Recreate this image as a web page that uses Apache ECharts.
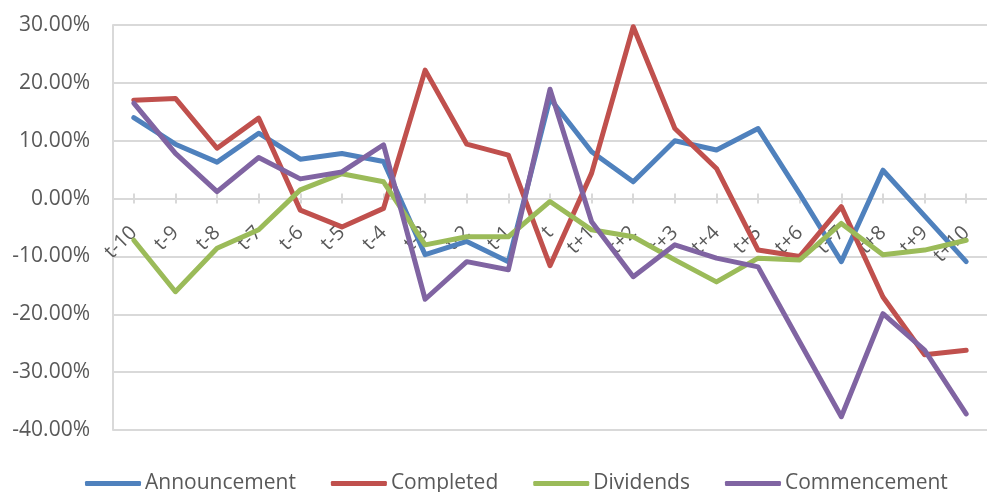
<!DOCTYPE html>
<html><head><meta charset="utf-8">
<script src="https://cdn.jsdelivr.net/npm/echarts@6/dist/echarts.min.js"></script>
<style>html,body{margin:0;padding:0;background:#fff}#c{width:987px;height:492px}</style>
</head><body><div id="c"></div>
<script>
const categories = ['t-10','t-9','t-8','t-7','t-6','t-5','t-4','t-3','t-2','t-1','t','t+1','t+2','t+3','t+4','t+5','t+6','t+7','t+8','t+9','t+10'];
const seriesNames = ['Announcement','Completed','Dividends','Commencement'];
const announcement = [14.0, 9.4, 6.3, 11.3, 6.8, 7.8, 6.4, -9.7, -7.4, -10.9, 17.3, 8.1, 2.9, 10.0, 8.4, 12.1, 0.8, -10.9, 4.9, -3.0, -10.9];
const completed = [17.0, 17.3, 8.7, 13.9, -2.0, -4.9, -1.7, 22.2, 9.4, 7.5, -11.6, 4.4, 29.7, 12.1, 5.2, -8.9, -10.0, -1.4, -17.0, -27.0, -26.2];
const dividends = [-7.2, -16.1, -8.6, -5.4, 1.5, 4.3, 2.9, -8.0, -6.6, -6.6, -0.5, -5.4, -6.6, -10.6, -14.4, -10.3, -10.6, -4.3, -9.7, -8.9, -7.2];
const commencement = [16.5, 7.8, 1.2, 7.1, 3.4, 4.6, 9.3, -17.4, -10.9, -12.3, 18.9, -4.0, -13.5, -8.0, -10.3, -11.8, -24.8, -37.7, -19.9, -26.2, -37.2];
const yTicks = {min: -40, max: 30, interval: 10};

const colors = ['#4F81BD', '#C0504D', '#9BBB59', '#8064A2'];
const values = [announcement, completed, dividends, commencement];
const FONT = '"Open Sans", sans-serif';
const gridColor = '#D9D9D9';
const GRID_TOP = 25, GRID_H = 405;
// distance from the bottom of the plot to the zero line, from the axis range
const zeroOffset = GRID_H * (0 - yTicks.min) / (yTicks.max - yTicks.min);

const chart = echarts.init(document.getElementById('c'));
chart.setOption({
  animation: false,
  color: colors,
  grid: {left: 113, top: GRID_TOP, width: 889, height: GRID_H, containLabel: false},
  legend: {
    left: 80, top: 468,
    itemWidth: 56, itemHeight: 5, itemGap: 35,
    icon: 'roundRect',
    textStyle: {fontFamily: FONT, fontSize: 21, color: '#595959', padding: [0, 0, 0, -1]},
    data: seriesNames
  },
  xAxis: [{
    type: 'category', data: categories, boundaryGap: true, position: 'bottom',
    offset: -zeroOffset,
    axisLine: {onZero: false, lineStyle: {color: gridColor, width: 2}},
    axisTick: {show: true, alignWithLabel: true, length: 5, lineStyle: {color: gridColor, width: 2}},
    axisLabel: {rotate: 45, margin: 31, fontFamily: FONT, fontSize: 20, color: '#595959', interval: 0},
    splitLine: {show: false}
  }, {
    type: 'category', data: categories, boundaryGap: true, position: 'top',
    offset: -(GRID_H - zeroOffset),
    axisLine: {show: false, onZero: false},
    axisTick: {show: true, alignWithLabel: true, length: 5, lineStyle: {color: gridColor, width: 2}},
    axisLabel: {show: false},
    splitLine: {show: false}
  }],
  yAxis: {
    type: 'value', min: yTicks.min, max: yTicks.max, interval: yTicks.interval,
    axisLine: {show: true, lineStyle: {color: gridColor, width: 2}},
    axisTick: {show: false},
    axisLabel: {margin: 23, fontFamily: FONT, fontSize: 21, color: '#595959',
      formatter: v => v.toFixed(2) + '%'},
    splitLine: {show: true, lineStyle: {color: gridColor, width: 2}}
  },
  series: seriesNames.map((n, i) => ({
    name: n, type: 'line', data: values[i], xAxisIndex: 0,
    symbol: 'none', smooth: false,
    lineStyle: {width: 5, color: colors[i], cap: 'round', join: 'round'}
  }))
});
</script></body></html>
